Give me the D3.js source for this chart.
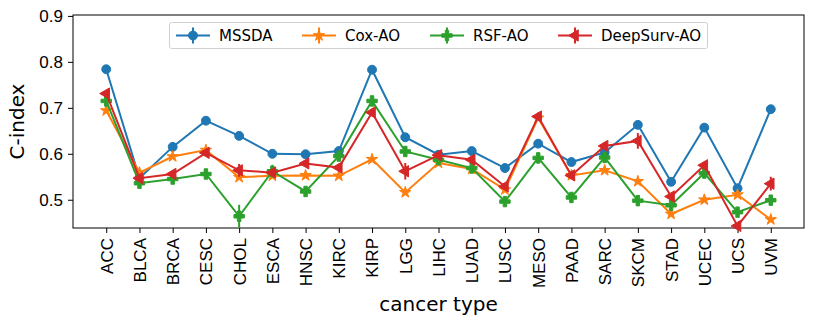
<!DOCTYPE html>
<html>
<head>
<meta charset="utf-8">
<script src="https://cdn.jsdelivr.net/npm/d3@7"></script>
<style>
    html, body { margin: 0; padding: 0; background: #fff; }
    svg { display: block; font-family: "DejaVu Sans", sans-serif; }
</style>
</head>
<body>
<div id="chart"></div>
<script>
// ===================================
// C-index per cancer type
// ===================================

const cancerTypes = ['ACC', 'BLCA', 'BRCA', 'CESC', 'CHOL', 'ESCA', 'HNSC', 'KIRC', 'KIRP', 'LGG', 'LIHC',
    'LUAD', 'LUSC', 'MESO', 'PAAD', 'SARC', 'SKCM', 'STAD', 'UCEC', 'UCS', 'UVM'];

const mssda = [0.784, 0.547, 0.615, 0.672, 0.639, 0.600, 0.599, 0.606, 0.783, 0.636, 0.598,
    0.606, 0.569, 0.622, 0.582, 0.603, 0.663, 0.539, 0.657, 0.525, 0.697];
const mssdaErr = [0.003, 0.003, 0.010, 0.003, 0.003, 0.003, 0.003, 0.003, 0.003, 0.003, 0.003,
    0.003, 0.003, 0.003, 0.003, 0.003, 0.003, 0.003, 0.003, 0.003, 0.003];

const coxAO = [0.694, 0.559, 0.594, 0.608, 0.549, 0.552, 0.553, 0.552, 0.588, 0.516, 0.580,
    0.567, 0.522, 0.678, 0.553, 0.564, 0.540, 0.469, 0.500, 0.511, 0.457];
const coxErr = [0.004, 0.003, 0.003, 0.004, 0.003, 0.003, 0.003, 0.003, 0.003, 0.003, 0.003,
    0.003, 0.003, 0.003, 0.003, 0.003, 0.003, 0.003, 0.003, 0.003, 0.003];

const rsfAO = [0.715, 0.536, 0.545, 0.556, 0.464, 0.562, 0.518, 0.595, 0.715, 0.605, 0.587,
    0.569, 0.496, 0.591, 0.505, 0.592, 0.498, 0.488, 0.558, 0.473, 0.499];
const rsfErr = [0.005, 0.004, 0.005, 0.008, 0.025, 0.014, 0.004, 0.008, 0.007, 0.004, 0.004,
    0.004, 0.004, 0.012, 0.004, 0.006, 0.011, 0.005, 0.006, 0.006, 0.007];

const deepSurvAO = [0.731, 0.547, 0.556, 0.602, 0.564, 0.559, 0.579, 0.570, 0.690, 0.562, 0.597,
    0.587, 0.529, 0.681, 0.553, 0.617, 0.628, 0.507, 0.575, 0.443, 0.535];
const deepSurvErr = [0.006, 0.004, 0.004, 0.005, 0.014, 0.004, 0.004, 0.008, 0.008, 0.018, 0.004,
    0.004, 0.004, 0.006, 0.004, 0.007, 0.017, 0.006, 0.007, 0.006, 0.015];

const yTicks = [0.5, 0.6, 0.7, 0.8, 0.9];

const seriesList = [
    { name: 'MSSDA', values: mssda, errors: mssdaErr, color: '#1f77b4', symbol: d3.symbolCircle, size: 62, rotate: 0 },
    { name: 'Cox-AO', values: coxAO, errors: coxErr, color: '#ff7f0e', symbol: d3.symbolStar, size: 40, rotate: 0 },
    { name: 'RSF-AO', values: rsfAO, errors: rsfErr, color: '#2ca02c', symbol: d3.symbolCross, size: 60, rotate: 0 },
    { name: 'DeepSurv-AO', values: deepSurvAO, errors: deepSurvErr, color: '#d62728', symbol: d3.symbolTriangle, size: 55, rotate: -90 }
];

const width = 814;
const height = 326;
const margin = { top: 15, right: 10, bottom: 98, left: 73 };

const svg = d3.select('#chart')
    .append('svg')
    .attr('width', width)
    .attr('height', height);

const x = d3.scaleLinear()
    .domain([-1, cancerTypes.length])
    .range([margin.left, width - margin.right]);

const y = d3.scaleLinear()
    .domain([0.4385, 0.902])
    .range([height - margin.bottom, margin.top]);

// Оси
const xAxis = svg.append('g')
    .attr('transform', `translate(0,${height - margin.bottom})`)
    .call(d3.axisBottom(x)
        .tickValues(d3.range(cancerTypes.length))
        .tickFormat(i => cancerTypes[i])
        .tickSize(5)
        .tickSizeOuter(0));

xAxis.selectAll('text')
    .attr('font-size', 17)
    .attr('fill', '#000')
    .attr('text-anchor', 'end')
    .attr('transform', 'rotate(-90)')
    .attr('x', -10)
    .attr('y', 0)
    .attr('dy', '0.35em');

const yAxis = svg.append('g')
    .attr('transform', `translate(${margin.left},0)`)
    .call(d3.axisLeft(y)
        .tickValues(yTicks)
        .tickFormat(d3.format('.1f'))
        .tickSize(5)
        .tickSizeOuter(0));

yAxis.selectAll('text')
    .attr('font-size', 17)
    .attr('fill', '#000')
    .attr('x', -10);

svg.selectAll('.domain').remove();
svg.selectAll('.tick line').attr('stroke', '#000').attr('stroke-width', 1);

// Рамка
svg.append('rect')
    .attr('x', margin.left)
    .attr('y', margin.top)
    .attr('width', width - margin.right - margin.left)
    .attr('height', height - margin.bottom - margin.top)
    .attr('fill', 'none')
    .attr('stroke', '#000')
    .attr('stroke-width', 1);

// Подписи осей
svg.append('text')
    .text('cancer type')
    .attr('x', (margin.left + width - margin.right) / 2)
    .attr('y', 311)
    .attr('text-anchor', 'middle')
    .attr('font-size', 20);

svg.append('text')
    .text('C-index')
    .attr('transform', `translate(24,${(margin.top + height - margin.bottom) / 2}) rotate(-90)`)
    .attr('text-anchor', 'middle')
    .attr('font-size', 20);

// Серии
const plot = svg.append('g');

const line = d3.line()
    .x((d, i) => x(i))
    .y(d => y(d));

function drawMarker(g, s, px, py) {
    g.append('line')
        .attr('x1', px).attr('x2', px)
        .attr('y1', py.lo).attr('y2', py.hi)
        .attr('stroke', s.color)
        .attr('stroke-width', 2);
    g.append('path')
        .attr('d', d3.symbol().type(s.symbol).size(s.size)())
        .attr('transform', `translate(${px},${py.mid}) rotate(${s.rotate})`)
        .attr('fill', s.color)
        .attr('stroke', s.color)
        .attr('stroke-width', 1);
}

seriesList.forEach(s => {
    const g = plot.append('g');

    g.append('path')
        .datum(s.values)
        .attr('d', line)
        .attr('fill', 'none')
        .attr('stroke', s.color)
        .attr('stroke-width', 2);

    s.values.forEach((v, i) => {
        drawMarker(g, s, x(i), {
            mid: y(v),
            lo: y(v - s.errors[i]),
            hi: y(v + s.errors[i])
        });
    });
});

// Легенда
const legend = svg.append('g');

legend.append('rect')
    .attr('x', 169.5)
    .attr('y', 22.5)
    .attr('width', 538)
    .attr('height', 26)
    .attr('rx', 2)
    .attr('fill', '#fff')
    .attr('fill-opacity', 0.8)
    .attr('stroke', '#d0d0d0');

const legendX = [176, 302, 430, 558];

seriesList.forEach((s, i) => {
    const lx = legendX[i];
    const ly = 35.5;
    const item = legend.append('g');

    item.append('line')
        .attr('x1', lx).attr('x2', lx + 34)
        .attr('y1', ly).attr('y2', ly)
        .attr('stroke', s.color)
        .attr('stroke-width', 2);

    drawMarker(item, s, lx + 17, { mid: ly, lo: ly - 8, hi: ly + 8 });

    item.append('text')
        .text(s.name)
        .attr('x', lx + 43)
        .attr('y', ly)
        .attr('dy', '0.35em')
        .attr('font-size', 15);
});
</script>
</body>
</html>
